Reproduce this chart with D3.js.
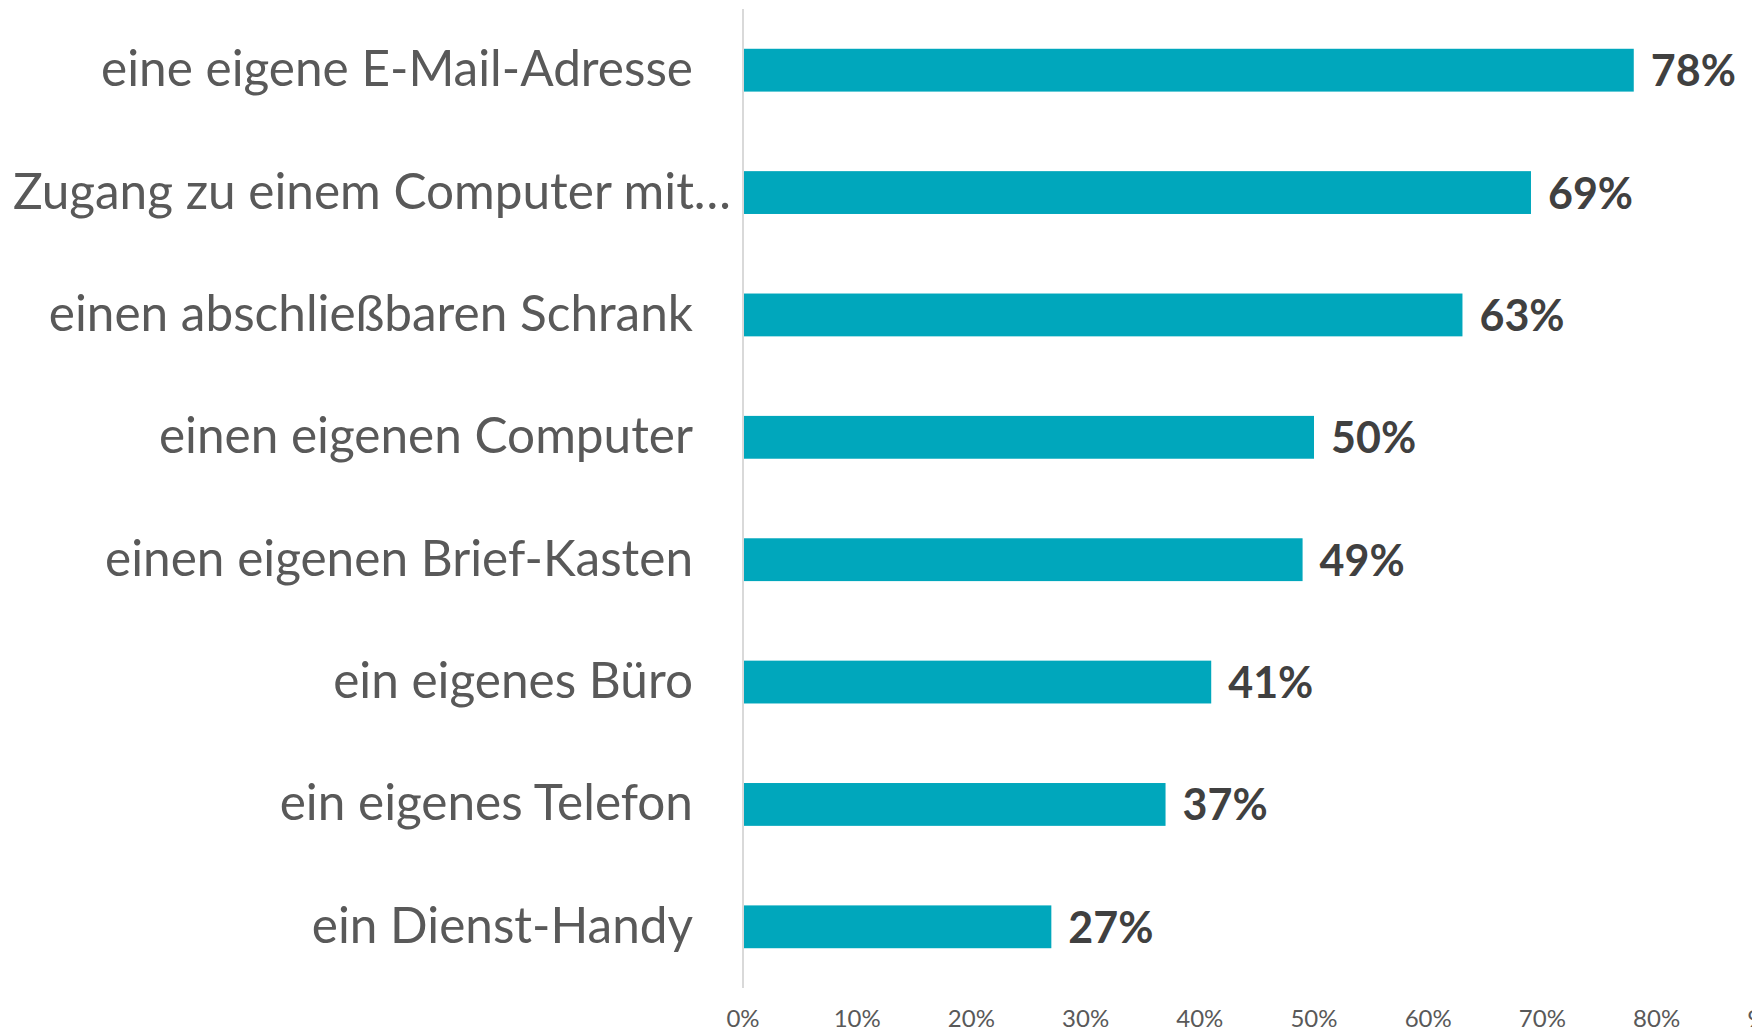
<!DOCTYPE html>
<html lang="de">
<head>
    <meta charset="UTF-8">
    <title>Ausstattung</title>
    <script src="https://d3js.org/d3.v7.min.js"></script>
    <style>
        body { margin: 0; background: #fff; }
        text { font-family: Lato, "Open Sans", sans-serif; }
    </style>
</head>
<body>
    <div id="chart"></div>
<script>
var categories = [
    "eine eigene E-Mail-Adresse",
    "Zugang zu einem Computer mit…",
    "einen abschließbaren Schrank",
    "einen eigenen Computer",
    "einen eigenen Brief-Kasten",
    "ein eigenes Büro",
    "ein eigenes Telefon",
    "ein Dienst-Handy"
];
var values = [78, 69, 63, 50, 49, 41, 37, 27];
var ticks = [0, 10, 20, 30, 40, 50, 60, 70, 80, 90];

var width = 1752, height = 1032;

var svg = d3.select("#chart")
    .append("svg")
        .attr("width", width)
        .attr("height", height);

// x scale: 0% sits on the axis line
var x = d3.scaleLinear()
    .domain([0, 100])
    .range([743, 743 + 1142]);

var y = d3.scaleBand()
    .domain(categories)
    .range([9, 988])
    .paddingInner(0.65)
    .paddingOuter(0.325);

// bars
svg.selectAll(".bar")
    .data(values)
    .enter()
    .append("rect")
    .attr("class", "bar")
    .attr("x", x(0) + 1)
    .attr("y", function(d, i) { return y(categories[i]); })
    .attr("width", function(d) { return x(d) - x(0) - 1; })
    .attr("height", y.bandwidth())
    .attr("fill", "#00a7bc");

// vertical axis line
svg.append("line")
    .attr("x1", x(0)).attr("x2", x(0))
    .attr("y1", 9).attr("y2", 988)
    .attr("stroke", "#d9d9d9")
    .attr("stroke-width", 2);

// category labels
svg.selectAll(".cat")
    .data(categories)
    .enter()
    .append("text")
    .attr("class", "cat")
    .attr("x", 693)
    .attr("y", function(d) { return y(d) + y.bandwidth() / 2 + 16; })
    .attr("text-anchor", "end")
    .attr("font-size", 49.5)
    .attr("fill", "#595959")
    .text(function(d) { return d; })
    .each(function() {
        // too long for the gutter: start it from the left edge like Excel does
        if (this.getComputedTextLength() > 680) {
            d3.select(this).attr("x", 13).attr("text-anchor", "start");
        }
    });

// value labels
svg.selectAll(".val")
    .data(values)
    .enter()
    .append("text")
    .attr("class", "val")
    .attr("x", function(d) { return x(d) + 17; })
    .attr("y", function(d, i) { return y(categories[i]) + y.bandwidth() / 2 + 16; })
    .attr("font-size", 43)
    .attr("font-weight", "bold")
    .attr("fill", "#404040")
    .text(function(d) { return d + "%"; });

// x tick labels
svg.selectAll(".tick")
    .data(ticks)
    .enter()
    .append("text")
    .attr("class", "tick")
    .attr("x", function(d) { return x(d); })
    .attr("y", 1027)
    .attr("text-anchor", "middle")
    .attr("font-size", 24)
    .attr("fill", "#595959")
    .text(function(d) { return d + "%"; });
</script>
</body>
</html>
